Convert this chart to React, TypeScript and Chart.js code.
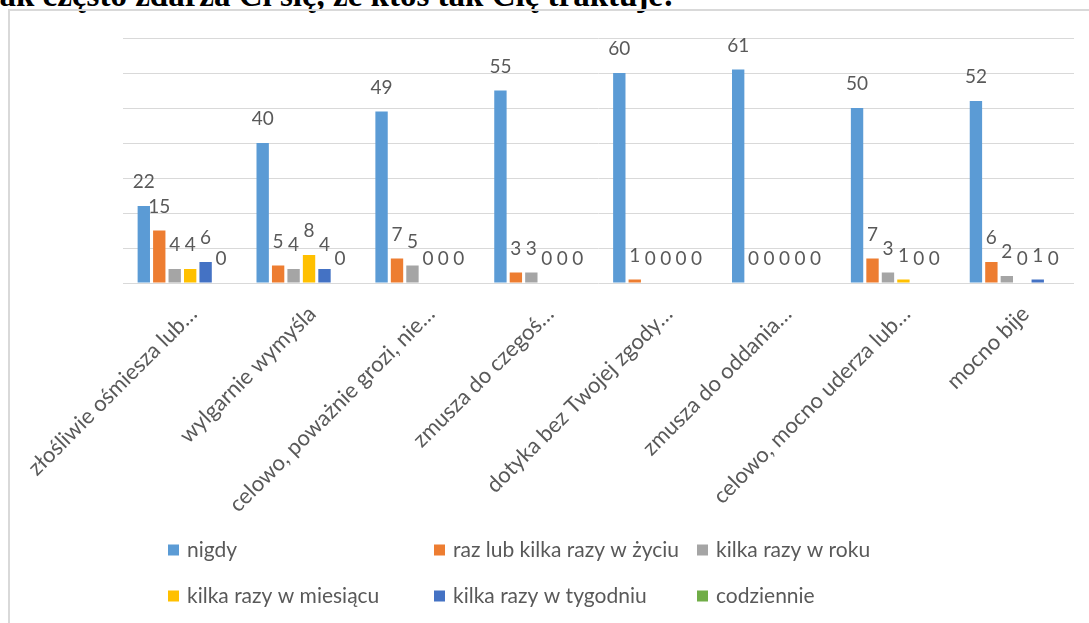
import React, { useEffect, useRef } from "react";
import { Chart, registerables } from "chart.js";

Chart.register(...registerables);

const categories = [
  "złośliwie ośmiesza lub…",
  "wylgarnie wymyśla",
  "celowo, poważnie grozi, nie…",
  "zmusza do czegoś…",
  "dotyka bez Twojej zgody…",
  "zmusza do oddania…",
  "celowo, mocno uderza lub…",
  "mocno bije",
];
const seriesNames = [
  "nigdy",
  "raz lub kilka razy w życiu",
  "kilka razy w roku",
  "kilka razy w miesiącu",
  "kilka razy w tygodniu",
  "codziennie",
];
const nigdy = [22, 40, 49, 55, 60, 61, 50, 52];
const razLubKilka = [15, 5, 7, 3, 1, 0, 7, 6];
const wRoku = [4, 4, 5, 3, 0, 0, 3, 2];
const wMiesiacu = [4, 8, 0, 0, 0, 0, 1, 0];
const wTygodniu = [6, 4, 0, 0, 0, 0, 0, 1];
const codziennie = [0, 0, 0, 0, 0, 0, 0, 0];
const seriesValues = [nigdy, razLubKilka, wRoku, wMiesiacu, wTygodniu, codziennie];
const seriesColors = ["#5B9BD5", "#ED7D31", "#A5A5A5", "#FFC000", "#4472C4", "#70AD47"];
const yMax = 70;
const yStep = 10;

const TEXT_COLOR = "#595959";
const FONT = "Lato";

const dataLabelPlugin = {
  id: "dataLabels",
  afterDatasetsDraw(chart: any) {
    const ctx = chart.ctx;
    ctx.save();
    ctx.font = `19px ${FONT}`;
    ctx.fillStyle = TEXT_COLOR;
    ctx.textAlign = "center";
    ctx.textBaseline = "middle";
    chart.data.datasets.forEach((ds: any, i: number) => {
      const meta = chart.getDatasetMeta(i);
      meta.data.forEach((el: any, j: number) => {
        ctx.fillText(String(ds.data[j]), el.x, el.y - 24);
      });
    });
    ctx.restore();
  },
};

const legendCols = [168, 434, 697];
const legendRows = [550, 596];

const gridLegendPlugin = {
  id: "gridLegend",
  afterDraw(chart: any) {
    const ctx = chart.ctx;
    ctx.save();
    ctx.font = `21px ${FONT}`;
    ctx.textAlign = "left";
    ctx.textBaseline = "middle";
    chart.data.datasets.forEach((ds: any, i: number) => {
      const x = legendCols[i % 3];
      const y = legendRows[Math.floor(i / 3)];
      ctx.fillStyle = ds.backgroundColor;
      ctx.fillRect(x, y - 5.5, 11, 11);
      ctx.fillStyle = TEXT_COLOR;
      ctx.fillText(ds.label, x + 19, y);
    });
    ctx.restore();
  },
};

export default function App() {
  const ref = useRef<HTMLCanvasElement>(null);

  useEffect(() => {
    if (!ref.current) return;
    const chart = new Chart(ref.current, {
      type: "bar",
      data: {
        labels: categories,
        datasets: seriesNames.map((name, i) => ({
          label: name,
          data: seriesValues[i],
          backgroundColor: seriesColors[i],
          borderWidth: 0,
          categoryPercentage: 0.78,
          barPercentage: 0.8,
        })),
      },
      options: {
        responsive: false,
        animation: false,
        layout: { padding: { left: 123, right: 15, top: 38, bottom: 0 } },
        plugins: {
          legend: { display: false },
          tooltip: { enabled: false },
          title: { display: false },
        },
        scales: {
          x: {
            grid: { display: false },
            border: { display: false },
            ticks: {
              autoSkip: false,
              minRotation: 45,
              maxRotation: 45,
              labelOffset: 11,
              padding: 10,
              color: TEXT_COLOR,
              font: { family: FONT, size: 22 },
            },
            afterFit: (scale: any) => {
              scale.height = 340;
            },
          },
          y: {
            min: 0,
            max: yMax,
            ticks: { display: false, stepSize: yStep },
            grid: { color: "#d9d9d9", lineWidth: 1, drawTicks: false },
            border: { display: false },
            afterFit: (scale: any) => {
              scale.width = 0;
            },
          },
        },
      },
      plugins: [dataLabelPlugin, gridLegendPlugin],
    });
    return () => chart.destroy();
  }, []);

  return (
    <div
      style={{
        position: "fixed",
        left: 0,
        top: 0,
        width: 1089,
        height: 623,
        overflow: "hidden",
        background: "#fff",
      }}
    >
      <div
        style={{
          position: "absolute",
          left: -17,
          top: -21,
          fontFamily: "'Liberation Serif', serif",
          fontWeight: "bold",
          fontSize: 33,
          lineHeight: "33px",
          whiteSpace: "nowrap",
          color: "#000",
        }}
      >
        Jak często zdarza Ci się, że ktoś tak Cię traktuje:
      </div>
      <div
        style={{
          position: "absolute",
          left: 8,
          top: 9,
          width: 1100,
          height: 700,
          borderLeft: "2px solid #d9d9d9",
          borderTop: "2px solid #d9d9d9",
        }}
      />
      <canvas
        ref={ref}
        width={1089}
        height={623}
        style={{ position: "absolute", left: 0, top: 0, width: 1089, height: 623 }}
      />
    </div>
  );
}
